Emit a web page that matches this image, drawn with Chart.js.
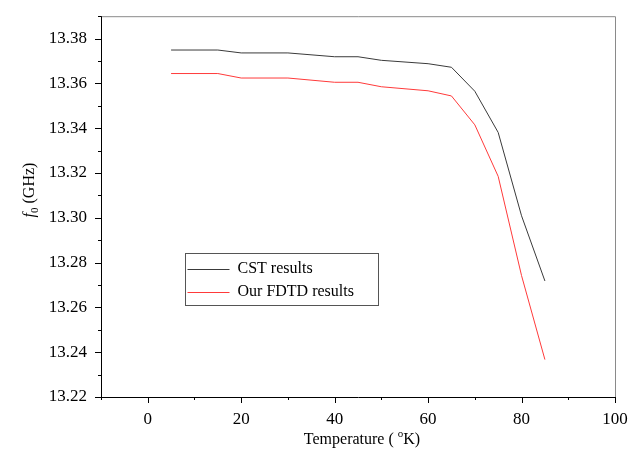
<!DOCTYPE html>
<html><head><meta charset="utf-8">
<script src="https://cdn.jsdelivr.net/npm/chart.js@4/dist/chart.umd.min.js"></script>
<style>html,body{margin:0;padding:0;background:#fff}#wrap{width:640px;height:453px}</style>
</head><body><div id="wrap"><canvas id="c" width="640" height="453"></canvas></div>
<script>
const temperature = [5,15,20,30,40,45,50,60,65,70,75,80,85];
const cstResults = [13.3749,13.3749,13.3736,13.3736,13.3719,13.3719,13.3703,13.3688,13.3672,13.3565,13.3381,13.3009,13.2718];
const fdtdResults = [13.3644,13.3644,13.3624,13.3624,13.3605,13.3605,13.3585,13.3567,13.3544,13.3415,13.3185,13.2742,13.2367];
const seriesNames = ["CST results","Our FDTD results"];
const xTitle = "Temperature (";
const yTitle = "f";

const FONT = '"Liberation Serif", "Times New Roman", serif';
Chart.defaults.font.family = FONT;
Chart.defaults.color = '#000';

const framePlugin = {
  id:'frame',
  afterDraw(chart){
    const {ctx, chartArea:a, scales:{x,y}} = chart;
    ctx.save();
    ctx.strokeStyle = '#8a8a8a'; ctx.lineWidth = 1;
    ctx.beginPath();
    ctx.moveTo(a.left, a.top+0.5); ctx.lineTo(a.right+0.5, a.top+0.5); ctx.lineTo(a.right+0.5, a.bottom);
    ctx.stroke();
    ctx.strokeStyle = '#000';
    ctx.beginPath();
    ctx.moveTo(a.left+0.5, a.top); ctx.lineTo(a.left+0.5, a.bottom+0.5); ctx.lineTo(a.right+0.5, a.bottom+0.5);
    ctx.stroke();
    ctx.beginPath();
    y.ticks.forEach(t=>{
      const p = Math.round(y.getPixelForValue(t.value))+0.5;
      const major = Math.round(t.value*100)%2===0;
      ctx.moveTo(a.left, p); ctx.lineTo(a.left-(major?6:3), p);
    });
    x.ticks.forEach(t=>{
      const p = Math.round(x.getPixelForValue(t.value))+0.5;
      const major = Math.round(t.value)%20===0;
      ctx.moveTo(p, a.bottom); ctx.lineTo(p, a.bottom+(major?6:3));
    });
    ctx.stroke();
    ctx.fillStyle = '#000';
    ctx.textBaseline = 'alphabetic';
    const cx = (a.left+a.right)/2;
    const s1 = xTitle, s2 = "o", s3 = "K)";
    ctx.font = "16px "+FONT; const w1 = ctx.measureText(s1+" ").width;
    ctx.font = "11px "+FONT; const w2 = ctx.measureText(s2).width;
    ctx.font = "16px "+FONT; const w3 = ctx.measureText(s3).width;
    let sx = cx - (w1+w2+w3)/2 + 4;
    const by = 444;
    ctx.textAlign='left';
    ctx.fillText(s1+" ", sx, by);
    ctx.font = "11px "+FONT; ctx.fillText(s2, sx+w1, by-7);
    ctx.font = "16px "+FONT; ctx.fillText(s3, sx+w1+w2, by);
    ctx.save();
    ctx.translate(34, 190);
    ctx.rotate(-Math.PI/2);
    ctx.font = "italic 16px "+FONT;
    const fw = ctx.measureText(yTitle).width;
    ctx.font = "11px "+FONT;
    const zw = ctx.measureText("0").width;
    ctx.font = "16px "+FONT;
    const gw = ctx.measureText(" (GHz)").width;
    let ty = -(fw+zw+gw)/2;
    ctx.textAlign='left';
    ctx.font = "italic 16px "+FONT; ctx.fillText(yTitle, ty, 0);
    ctx.font = "11px "+FONT; ctx.fillText("0", ty+fw, 4);
    ctx.font = "16px "+FONT; ctx.fillText(" (GHz)", ty+fw+zw, 0);
    ctx.restore();
    const lx = 185.5, ly = 253.5, lw = 193, lh = 52;
    ctx.strokeStyle = '#555'; ctx.lineWidth = 1;
    ctx.strokeRect(lx, ly, lw, lh);
    chart.data.datasets.forEach((ds,i)=>{
      const yy = ly + 15 + i*23;
      ctx.strokeStyle = ds.borderColor;
      ctx.beginPath(); ctx.moveTo(lx+2, Math.round(yy)+0.5); ctx.lineTo(lx+44, Math.round(yy)+0.5); ctx.stroke();
      ctx.fillStyle = '#000'; ctx.font = "16px "+FONT; ctx.textBaseline='middle';
      ctx.fillText(ds.label, lx+52, yy);
    });
    ctx.restore();
  }
};

new Chart(document.getElementById('c'), {
  type:'line',
  data:{
    datasets:[
      {label:seriesNames[0], data:temperature.map((t,i)=>({x:t,y:cstResults[i]})), borderColor:'#3a3a3a', borderWidth:1, pointRadius:0, tension:0, fill:false},
      {label:seriesNames[1], data:temperature.map((t,i)=>({x:t,y:fdtdResults[i]})), borderColor:'#ff3a3a', borderWidth:1, pointRadius:0, tension:0, fill:false}
    ]
  },
  options:{
    responsive:false, animation:false,
    layout:{padding:{top:9,right:25,left:0,bottom:0}},
    plugins:{legend:{display:false}, tooltip:{enabled:false}},
    scales:{
      x:{type:'linear', min:-10, max:100,
        grid:{display:false}, border:{display:false},
        ticks:{stepSize:10, autoSkip:false, maxRotation:0, color:'#000', font:{family:FONT, size:17}, padding:4,
          callback:v=> (Math.round(v)%20===0 ? String(v) : '')},
        afterFit:s=>{s.height=56;}
      },
      y:{type:'linear', min:13.22, max:13.39,
        grid:{display:false}, border:{display:false},
        ticks:{stepSize:0.01, autoSkip:false, color:'#000', font:{family:FONT, size:17}, padding:6,
          callback:v=> (Math.round(v*100)%2===0 ? v.toFixed(2) : '')},
        afterFit:s=>{s.width=101;}
      }
    }
  },
  plugins:[framePlugin]
});
</script></body></html>
